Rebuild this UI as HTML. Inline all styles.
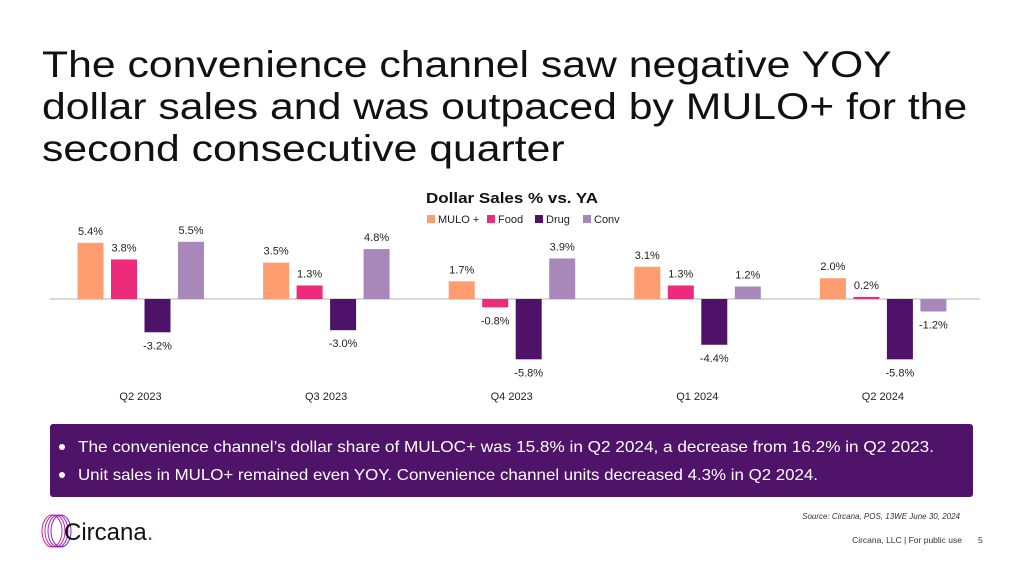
<!DOCTYPE html>
<html><head><meta charset="utf-8"><style>
body{margin:0;width:1024px;height:576px;background:#fff;overflow:hidden;font-family:"Liberation Sans",sans-serif;position:relative}
#title{position:absolute;left:42px;top:44px;font-size:37px;line-height:42px;color:#111;margin:0;font-weight:normal;transform:scaleX(1.155);transform-origin:0 0;white-space:nowrap}
svg{position:absolute;left:0;top:0}
</style></head><body>
<h1 id="title">The convenience channel saw negative YOY<br>dollar sales and was outpaced by MULO+ for the<br>second consecutive quarter</h1>
<svg id="chart" width="1024" height="576"></svg>
<script>
const categories=["Q2 2023","Q3 2023","Q4 2023","Q1 2024","Q2 2024"];
const seriesNames=["MULO +","Food","Drug","Conv"];
const mulo=[5.4,3.5,1.7,3.1,2.0];
const food=[3.8,1.3,-0.8,1.3,0.2];
const drug=[-3.2,-3.0,-5.8,-4.4,-5.8];
const conv=[5.5,4.8,3.9,1.2,-1.2];
const series=[mulo,food,drug,conv];
const colors=["#ff9c70","#ee2a7b","#4f1269","#a888ba"];
const NS="http://www.w3.org/2000/svg";
const svg=document.getElementById('chart');
function el(t,a,txt){const e=document.createElementNS(NS,t);for(const k in a)e.setAttribute(k,a[k]);if(txt!=null)e.textContent=txt;svg.appendChild(e);return e;}
const zeroY=299,pxPer=10.4;
const y=v=>zeroY-v*pxPer;
const groupX=i=>77.5+i*185.6;
const barX=(i,s)=>groupX(i)+s*33.5;
const bw=26;
const cf='font-family:"Liberation Sans",sans-serif';
let t=el('text',{x:512,y:203,'text-anchor':'middle','font-size':15,'font-weight':'bold',fill:'#111',style:cf,textLength:172,lengthAdjust:'spacingAndGlyphs'},'Dollar Sales % vs. YA');


const legX=[427,487,535,583];
seriesNames.forEach((n,s)=>{
  const r=el('rect',{x:legX[s],y:215,width:8,height:8,fill:colors[s]});
  
  
  const lt=el('text',{x:legX[s]+11,y:223,'font-size':11,fill:'#222',style:cf},n);
  
  
});
const ax=el('line',{x1:50,x2:980,y1:zeroY,y2:zeroY,stroke:'#d9d9d9','stroke-width':2});


categories.forEach((c,i)=>{
  series.forEach((vals,s)=>{
    const v=vals[i];const x=barX(i,s);
    const r=el('rect',{x:x,y:Math.min(y(v),zeroY),width:bw,height:Math.abs(y(v)-zeroY),fill:colors[s]});
    
    
    const ly=v>=0?y(v)-8:y(v)+17;
    const l=el('text',{x:x+bw/2,y:ly,'text-anchor':'middle','font-size':11,fill:'#222',style:cf},v.toFixed(1)+'%');
    
    
  });
  const cl=el('text',{x:groupX(i)+63,y:400,'text-anchor':'middle','font-size':11,fill:'#222',style:cf},c);
  
  
});
</script>
<svg width="1024" height="576" style="pointer-events:none">
  <rect x="50" y="424" width="923" height="73" rx="3" fill="#4f1469"/>
  <circle cx="62" cy="447" r="3" fill="#fff"/>
  <text x="78" y="452" font-size="16" fill="#fff" textLength="856" lengthAdjust="spacingAndGlyphs">The convenience channel’s dollar share of MULOC+ was 15.8% in Q2 2024, a decrease from 16.2% in Q2 2023.</text>
  <circle cx="62" cy="475" r="3" fill="#fff"/>
  <text x="78" y="480" font-size="16" fill="#fff" textLength="740" lengthAdjust="spacingAndGlyphs">Unit sales in MULO+ remained even YOY. Convenience channel units decreased 4.3% in Q2 2024.</text>
  <g fill="none" stroke="#8a2be2" stroke-width="1">
    <ellipse cx="52" cy="531" rx="10" ry="16" stroke="#e0208f"/>
    <ellipse cx="55" cy="531" rx="10" ry="16" stroke="#c22aa8"/>
    <ellipse cx="58" cy="531" rx="10" ry="16" stroke="#9b2cc0"/>
    <ellipse cx="61" cy="531" rx="10" ry="16" stroke="#6c2bc9"/>
  </g>
  <text x="64" y="540" font-size="24" fill="#111">Circana<tspan fill="#7b2cbf">.</tspan></text>
  <text x="960" y="519" font-size="8" font-style="italic" fill="#333" text-anchor="end">Source: Circana, POS, 13WE June 30, 2024</text>
  <text x="962" y="543" font-size="8.5" fill="#333" text-anchor="end">Circana, LLC |  For public use</text>
  <text x="978" y="543" font-size="8.5" fill="#333">5</text>
</svg>
</body></html>
